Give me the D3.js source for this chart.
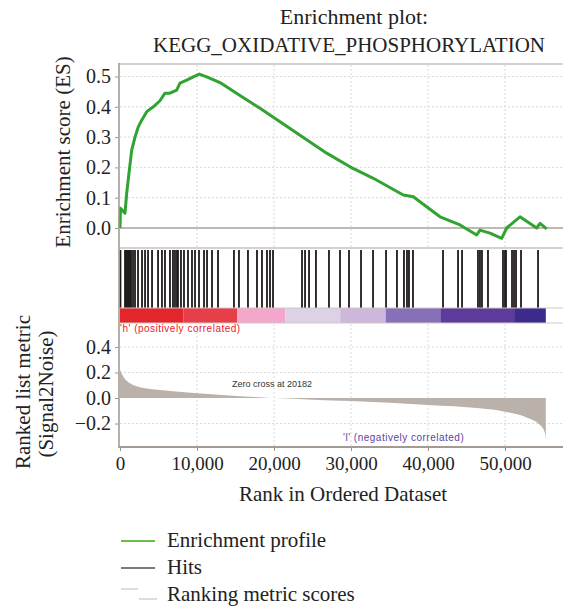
<!DOCTYPE html>
<html>
<head>
<meta charset="utf-8">
<script src="https://cdn.jsdelivr.net/npm/d3@7"></script>
<style>
  body { margin: 0; background: #fff; }
  svg { display: block; }
</style>
</head>
<body>
<div id="chart"></div>
<script>
// values

// running enrichment score: [rank, ES]
var esRank = [0, 60, 650, 870, 1210, 1520, 1950, 2380, 2820, 3470, 4330, 5190, 5840, 6490, 7360, 7790, 8660, 9520, 10300,
  11260, 12990, 15580, 18180, 20780, 26840, 29870, 32900, 36790, 38090, 41560, 44160, 46320, 46750, 48050, 49570,
  50220, 51950, 54110, 54550, 55410];
var esValue = [0.0, 0.065, 0.049, 0.115, 0.19, 0.257, 0.30, 0.334, 0.356, 0.384, 0.40, 0.42, 0.445, 0.445, 0.455, 0.478, 0.488, 0.499, 0.508,
  0.499, 0.48, 0.437, 0.395, 0.351, 0.247, 0.202, 0.164, 0.109, 0.103, 0.037, 0.01, -0.023, -0.007, -0.017, -0.034,
  0.0, 0.037, 0.0, 0.015, -0.003];

// ranks of the gene set members (hits)
var hitRanks = [60, 650, 780, 910, 1040, 1170, 1300, 1430, 1690, 1950, 2340, 2860, 3250, 3640, 4160, 4940, 5450, 5840,
  6490, 6880, 7140, 7400, 7530, 7920, 8310, 8830, 9350, 9740, 10260, 10910, 11300, 11950, 12730, 14800, 15450,
  16620, 17790, 18440, 19090, 19480, 19870, 23640, 24030, 24550, 25450, 27140, 28570, 29740, 31300, 32860, 34550,
  35970, 36880, 37270, 37530, 38050, 41950, 43900, 44420, 46490, 46750, 47010, 47790, 49740, 50000, 50130, 50910,
  51170, 51430, 52080, 54290];

// ranked list metric (Signal2Noise): [rank, value]
var metricRank = [0, 430, 1300, 2600, 5200, 10000, 14700, 19050, 20182, 25000, 30000, 40000, 46750, 50000, 52800, 54550, 55200, 55300];
var metricValue = [0.22, 0.167, 0.115, 0.084, 0.063, 0.037, 0.018, 0.003, 0.0, -0.013, -0.024, -0.055, -0.081, -0.107, -0.152, -0.212, -0.277, -0.33];

// colour bar of the ranked list
var bandStart = [0, 8220, 15240, 21500, 28600, 34500, 41600, 51300];
var bandEnd = [8220, 15240, 21500, 28600, 34500, 41600, 51300, 55300];
var bandColor = ["#e2262c", "#e63f4a", "#f3a8cb", "#ddd1e7", "#cdb7db", "#8670b8", "#5c3b9b", "#3c2a8c"];

var xTicks = [0, 10000, 20000, 30000, 40000, 50000];
var esTicks = [0.0, 0.1, 0.2, 0.3, 0.4, 0.5];
var metricTicks = [-0.2, 0.0, 0.2, 0.4];
var zeroCross = 20182;

var W = 563, H = 607;
var serif = "'Liberation Serif', 'Times New Roman', serif";
var sans = "'Liberation Sans', Arial, sans-serif";

var svg = d3.select("#chart").append("svg")
  .attr("width", W).attr("height", H);

var x = d3.scaleLinear().domain([0, 57000]).range([120, 120 + 57000 * 0.0077]);
var yES = d3.scaleLinear().domain([-0.0627, 0.5413]).range([247, 64]);
var yM = d3.scaleLinear().domain([-0.384, 0.588]).range([447, 323]);

var right = W + 5;

// TITLE //
svg.append("text").attr("x", 354).attr("y", 24).attr("text-anchor", "middle")
  .style("font-family", serif).style("font-size", "22px").attr("fill", "#222")
  .text("Enrichment plot:");
svg.append("text").attr("x", 349).attr("y", 52).attr("text-anchor", "middle")
  .style("font-family", serif).style("font-size", "21px").attr("fill", "#222")
  .text("KEGG_OXIDATIVE_PHOSPHORYLATION");

// grid lines
var grid = svg.append("g").attr("stroke", "#d9d9d9").attr("stroke-dasharray", "2,2").attr("stroke-width", 1);
xTicks.slice(1).forEach(function(t) {
  grid.append("line").attr("x1", x(t)).attr("x2", x(t)).attr("y1", 65).attr("y2", 247);
  grid.append("line").attr("x1", x(t)).attr("x2", x(t)).attr("y1", 324).attr("y2", 446);
});
esTicks.slice(1).forEach(function(t) {
  grid.append("line").attr("x1", 120).attr("x2", right).attr("y1", yES(t)).attr("y2", yES(t));
});
metricTicks.forEach(function(t) {
  if (t == 0) return;
  grid.append("line").attr("x1", 120).attr("x2", right).attr("y1", yM(t)).attr("y2", yM(t));
});

// ES panel
svg.append("line").attr("x1", 119).attr("x2", right).attr("y1", 64).attr("y2", 64)
  .attr("stroke", "#d6d1cc").attr("stroke-width", 2);
svg.append("line").attr("x1", 120).attr("x2", right).attr("y1", yES(0)).attr("y2", yES(0))
  .attr("stroke", "#ab9f97").attr("stroke-width", 1.5);

var esData = esRank.map(function(r, i) { return [r, esValue[i]]; });
var esLine = d3.line().x(function(d) { return x(d[0]); }).y(function(d) { return yES(d[1]); });
svg.append("path").datum(esData).attr("d", esLine)
  .attr("fill", "none").attr("stroke", "#30a330").attr("stroke-width", 3).attr("stroke-linejoin", "round");

// hits panel
svg.append("line").attr("x1", 119).attr("x2", right).attr("y1", 248).attr("y2", 248)
  .attr("stroke", "#c9c2bb").attr("stroke-width", 1.5);
svg.append("g").selectAll("line").data(hitRanks).enter().append("line")
  .attr("x1", function(d) { return x(d); }).attr("x2", function(d) { return x(d); })
  .attr("y1", 250).attr("y2", 308)
  .attr("stroke", "#1f1a1a").attr("stroke-width", 1.8);

// colour bar
svg.append("g").selectAll("rect").data(bandColor).enter().append("rect")
  .attr("x", function(d, i) { return x(bandStart[i]); })
  .attr("width", function(d, i) { return x(bandEnd[i]) - x(bandStart[i]); })
  .attr("y", 308).attr("height", 15)
  .attr("fill", function(d) { return d; });
svg.append("line").attr("x1", 120).attr("x2", right).attr("y1", 308).attr("y2", 308)
  .attr("stroke", "#cfc8c2").attr("stroke-width", 1);
svg.append("line").attr("x1", 120).attr("x2", right).attr("y1", 323).attr("y2", 323)
  .attr("stroke", "#cfc8c2").attr("stroke-width", 1);

// ranked list metric
var mData = metricRank.map(function(r, i) { return [r, metricValue[i]]; });
var area = d3.area().curve(d3.curveMonotoneX)
  .x(function(d) { return x(d[0]); })
  .y0(yM(0))
  .y1(function(d) { return yM(d[1]); });
svg.append("path").datum(mData).attr("d", area).attr("fill", "#bab2aa");

svg.append("text").attr("x", 120).attr("y", 332)
  .style("font-family", sans).style("font-size", "10px").style("letter-spacing", "0.5px")
  .attr("fill", "#e8222b").text("'h' (positively correlated)");
svg.append("text").attr("x", 343).attr("y", 441)
  .style("font-family", sans).style("font-size", "10px").style("letter-spacing", "0.5px")
  .attr("fill", "#5b45a5").text("'l' (negatively correlated)");
svg.append("text").attr("x", 232).attr("y", 387)
  .style("font-family", sans).style("font-size", "9px")
  .attr("fill", "#333").text("Zero cross at " + zeroCross);

// frame: left and bottom
svg.append("line").attr("x1", 119).attr("x2", 119).attr("y1", 63).attr("y2", 448)
  .attr("stroke", "#9e968e").attr("stroke-width", 1.5);
svg.append("line").attr("x1", 119).attr("x2", right).attr("y1", 447).attr("y2", 447)
  .attr("stroke", "#a39b93").attr("stroke-width", 2);

// AXES //
function styleAxis(g, size) {
  g.select(".domain").remove();
  g.selectAll(".tick line").attr("stroke", "#9e968e");
  g.selectAll(".tick text").style("font-family", serif).style("font-size", size).attr("fill", "#222");
}

svg.append("g").attr("transform", "translate(118,0)")
  .call(d3.axisLeft(yES).tickValues(esTicks).tickFormat(d3.format(".1f")).tickSize(3).tickPadding(4))
  .call(styleAxis, "20px");

svg.append("g").attr("transform", "translate(118,0)")
  .call(d3.axisLeft(yM).tickValues(metricTicks).tickFormat(d3.format(".1f")).tickSize(3).tickPadding(4))
  .call(styleAxis, "20px");

svg.append("g").attr("transform", "translate(0,448)")
  .call(d3.axisBottom(x).tickValues(xTicks).tickFormat(d3.format(",")).tickSize(3).tickPadding(6))
  .call(styleAxis, "19px");

svg.append("text").attr("x", 343).attr("y", 501).attr("text-anchor", "middle")
  .style("font-family", serif).style("font-size", "21px").attr("fill", "#222")
  .text("Rank in Ordered Dataset");

svg.append("text").attr("transform", "translate(70,152) rotate(-90)").attr("text-anchor", "middle")
  .style("font-family", serif).style("font-size", "21px").attr("fill", "#222")
  .text("Enrichment score (ES)");
svg.append("text").attr("transform", "translate(30,392) rotate(-90)").attr("text-anchor", "middle")
  .style("font-family", serif).style("font-size", "21px").attr("fill", "#222")
  .text("Ranked list metric");
svg.append("text").attr("transform", "translate(53,394) rotate(-90)").attr("text-anchor", "middle")
  .style("font-family", serif).style("font-size", "21px").attr("fill", "#222")
  .text("(Signal2Noise)");

// LEGEND //
var legend = svg.append("g");
legend.append("line").attr("x1", 121).attr("x2", 155).attr("y1", 541).attr("y2", 541)
  .attr("stroke", "#6abf4b").attr("stroke-width", 2);
legend.append("line").attr("x1", 121).attr("x2", 155).attr("y1", 568).attr("y2", 568)
  .attr("stroke", "#7a7a7a").attr("stroke-width", 2);
legend.append("line").attr("x1", 121).attr("x2", 138).attr("y1", 589).attr("y2", 589)
  .attr("stroke", "#dcdcdc").attr("stroke-width", 2);
legend.append("line").attr("x1", 139).attr("x2", 157).attr("y1", 599).attr("y2", 599)
  .attr("stroke", "#dcdcdc").attr("stroke-width", 2);

var legendText = ["Enrichment profile", "Hits", "Ranking metric scores"];
var legendY = [547, 574, 601];
legend.selectAll("text").data(legendText).enter().append("text")
  .attr("x", 167).attr("y", function(d, i) { return legendY[i]; })
  .style("font-family", serif).style("font-size", "21px").attr("fill", "#222")
  .text(function(d) { return d; });
</script>
</body>
</html>
